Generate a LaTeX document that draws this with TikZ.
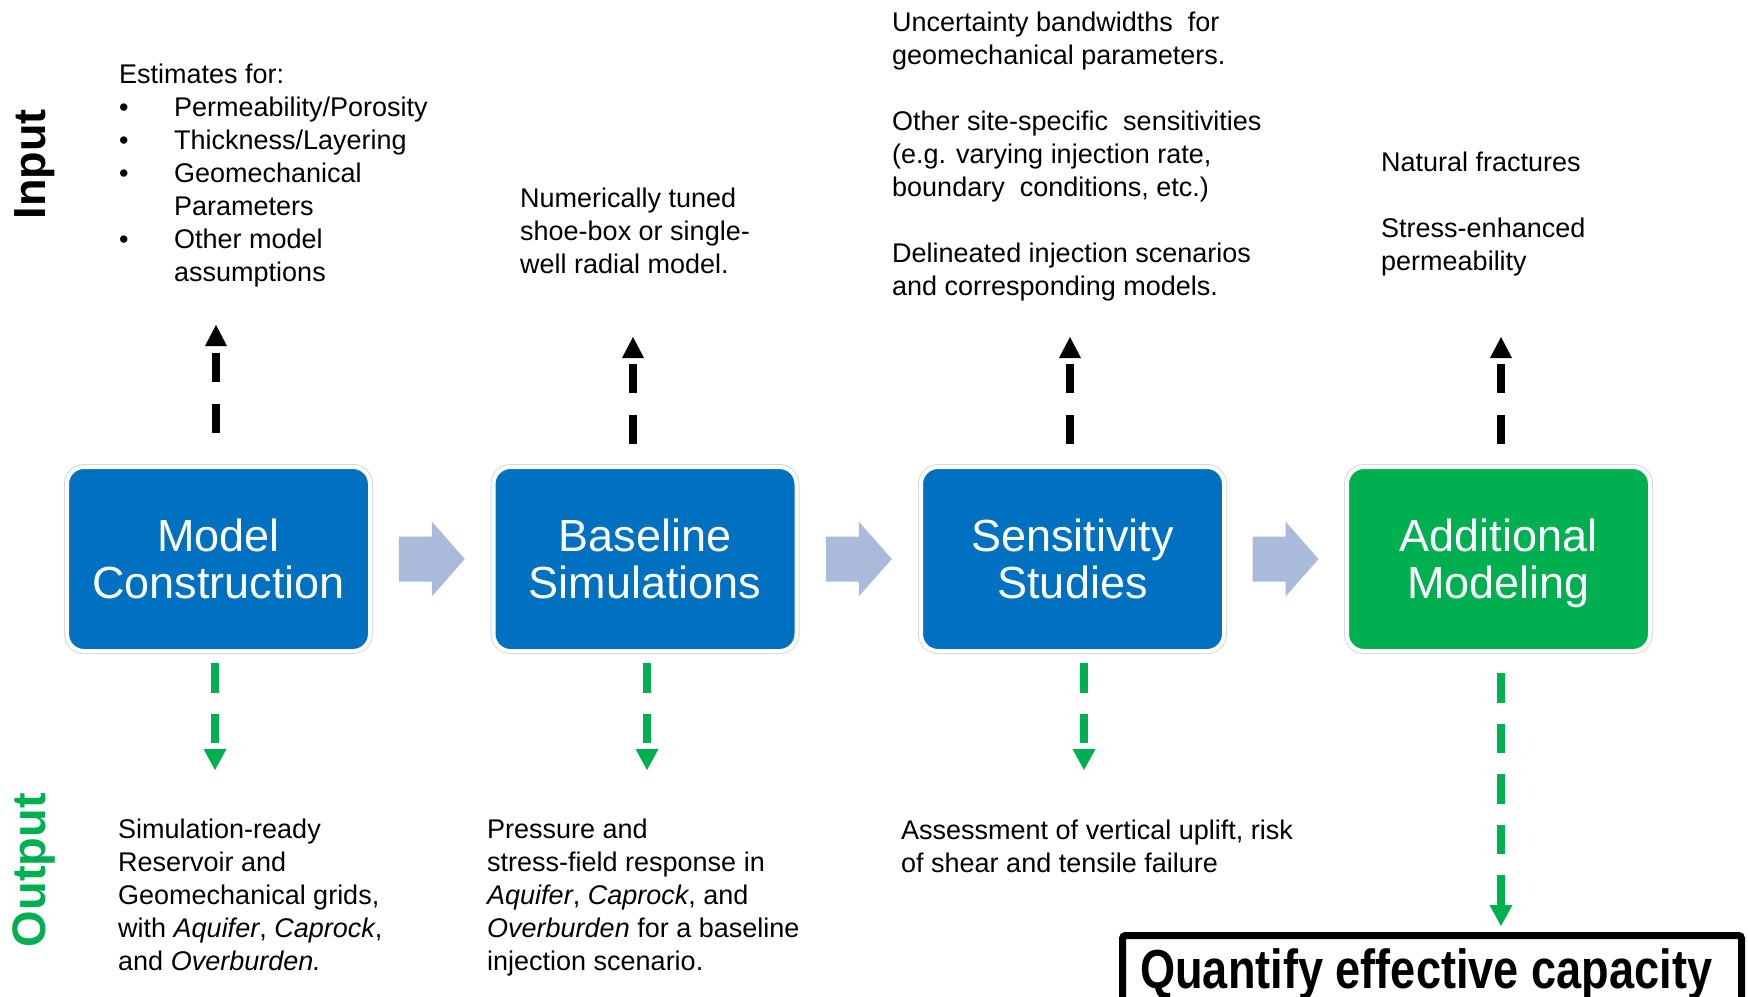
\documentclass[tikz,border=0pt]{standalone}
\usepackage{fontspec}
\usepackage{graphicx}
\setmainfont{Liberation Sans}
\usetikzlibrary{arrows.meta,calc}
\definecolor{boxblue}{HTML}{0070C0}
\definecolor{boxgreen}{HTML}{00B050}
\definecolor{chevcol}{HTML}{AABADA}
\definecolor{ringgray}{HTML}{D9D9D9}
\begin{document}
\begin{tikzpicture}[x=1pt,y=-1pt,
  stepbox/.style={rounded corners=17pt, minimum width=303pt, minimum height=184pt,
    inner sep=0pt, draw=white, line width=4pt, preaction={draw=ringgray, line width=6pt},
    text=white, align=center, font=\fontsize{45}{47}\selectfont},
  txt/.style={anchor=north west, inner sep=0pt, align=left, font=\fontsize{27}{33}\selectfont},
  chev/.style={fill=chevcol},
  upar/.style={draw=black, line width=7.5pt, dash pattern=on 29pt off 22pt,
    -{Triangle[length=21pt,width=22pt,line width=0pt]}},
  dnar/.style={draw=boxgreen, line width=7.5pt, dash pattern=on 29.5pt off 21pt,
    -{Triangle[length=21pt,width=23pt,line width=0pt]}},
  side/.style={rotate=90, anchor=base, inner sep=0pt, font=\fontsize{45}{45}\selectfont\bfseries},
  qbox/.style={draw=black, line width=7pt, rounded corners=3pt, inner sep=0pt, outer sep=0pt,
    minimum width=619pt, minimum height=130pt, anchor=north west}
]
\clip (0,0) rectangle (1748,996);
\fill[white] (0,0) rectangle (1748,996);

% side labels
\node[side] (inlab) at (45,164.5) {Input};
\node[side, text=boxgreen, font=\fontsize{47}{47}\selectfont\bfseries] (outlab) at (45,870) {Output};

% main boxes
\node[stepbox, fill=boxblue] (b1) at (218.5,559) {Model\\\smash{Construction}};
\node[stepbox, fill=boxblue] (b2) at (645,559) {Baseline\\\smash{Simulations}};
\node[stepbox, fill=boxblue] (b3) at (1072.5,559) {Sensitivity\\\smash{Studies}};
\node[stepbox, fill=boxgreen] (b4) at (1498.5,559) {Additional\\\smash{Modeling}};

% chevrons
\path (b1.east) -- (b2.west) coordinate[pos=0.5] (m1);
\path (b2.east) -- (b3.west) coordinate[pos=0.5] (m2);
\path (b3.east) -- (b4.west) coordinate[pos=0.5] (m3);
\foreach \m in {m1,m2,m3}{
  \fill[chev] ($(\m)+(-33,-22.5)$) -- ++(33,0) -- ++(0,-15) -- ++(33,37.5)
     -- ++(-33,37.5) -- ++(0,-15) -- ++(-33,0) -- cycle;
}

% input texts
\node[txt] (in1) at (119,59) {\rule{0pt}{24pt}Estimates for:\\
\makebox[55pt][l]{\textbullet}Permeability/Porosity\\
\makebox[55pt][l]{\textbullet}Thickness/Layering\\
\makebox[55pt][l]{\textbullet}Geomechanical\\
\hspace*{55pt}Parameters\\
\makebox[55pt][l]{\textbullet}Other model\\
\hspace*{55pt}assumptions};
\node[txt] (in2) at (520,183) {\rule{0pt}{24pt}Numerically tuned\\
shoe-box or single-\\
well radial model.};
\node[txt] (in3) at (892,7) {\rule{0pt}{24pt}Uncertainty bandwidths\ \ for\\
geomechanical parameters.\\
\mbox{}\\
Other site-specific\ \ sensitivities\\
(e.g. varying injection rate,\\
boundary\ \ conditions, etc.)\\
\mbox{}\\
Delineated injection scenarios\\
and corresponding models.};
\node[txt] (in4) at (1381,147) {\rule{0pt}{24pt}Natural fractures\\
\mbox{}\\
Stress-enhanced\\
permeability};

% output texts
\node[txt] (out1) at (118,814) {\rule{0pt}{24pt}Simulation-ready\\
Reservoir and\\
Geomechanical grids,\\
with \textit{Aquifer}, \textit{Caprock},\\
and \textit{Overburden.}};
\node[txt] (out2) at (487,814) {\rule{0pt}{24pt}Pressure and\\
stress-field response in\\
\textit{Aquifer}, \textit{Caprock}, and\\
\textit{Overburden} for a baseline\\
injection scenario.};
\node[txt] (out3) at (901,815) {\rule{0pt}{24pt}Assessment of vertical uplift,\ risk\\
of shear and tensile\ failure};

% arrow end points
\coordinate (u1s) at (216,433);  \coordinate (u1e) at (216,325);
\coordinate (u2s) at (633,444);  \coordinate (u2e) at (633,337);
\coordinate (u3s) at (1070,444); \coordinate (u3e) at (1070,337);
\coordinate (u4s) at (1501,444); \coordinate (u4e) at (1501,337);
\coordinate (d1s) at (215,663);  \coordinate (d1e) at (215,770);
\coordinate (d2s) at (647,663);  \coordinate (d2e) at (647,770);
\coordinate (d3s) at (1084,663); \coordinate (d3e) at (1084,770);
\coordinate (d4s) at (1501,673); \coordinate (d4e) at (1501,926);

\draw[upar] (u1s) -- (u1e);
\draw[upar] (u2s) -- (u2e);
\draw[upar] (u3s) -- (u3e);
\draw[upar] (u4s) -- (u4e);
\draw[dnar] (d1s) -- (d1e);
\draw[dnar] (d2s) -- (d2e);
\draw[dnar] (d3s) -- (d3e);
\draw[dnar] (d4s) -- (d4e);

% result box
\node[qbox] (q) at (1122.5,935.5) {};
\node[anchor=base west, inner sep=0pt] (qt) at (1140,988)
  {\resizebox{572pt}{\height}{\fontsize{55}{55}\selectfont\bfseries Quantify effective capacity}};
\end{tikzpicture}
\end{document}
